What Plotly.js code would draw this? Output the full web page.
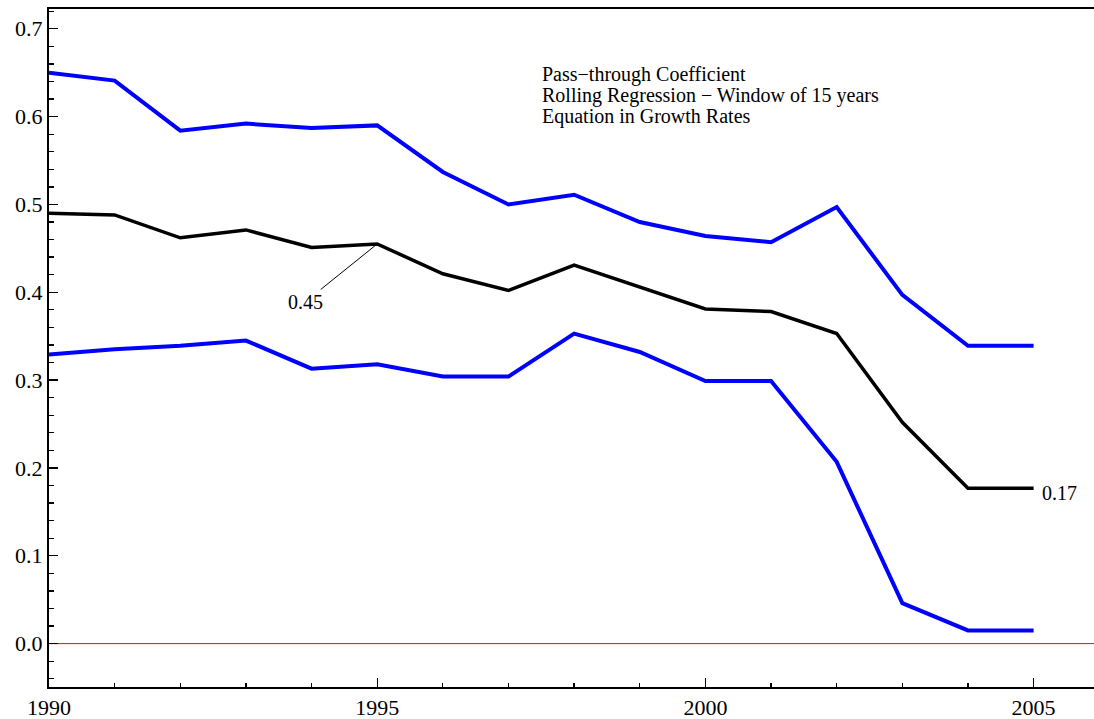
<!DOCTYPE html>
<html>
<head>
<meta charset="utf-8">
<script src="https://cdn.plot.ly/plotly-3.0.1.min.js"></script>
<style>html,body{margin:0;padding:0;background:#fff;}#chart{width:1094px;height:719px;}</style>
</head>
<body>
<div id="chart"></div>
<script>
var years = [1990,1991,1992,1993,1994,1995,1996,1997,1998,1999,2000,2001,2002,2003,2004,2005];
var upperBand = [0.650,0.641,0.584,0.592,0.587,0.590,0.537,0.500,0.511,0.480,0.464,0.457,0.497,0.397,0.339,0.339];
var coefficient = [0.490,0.488,0.462,0.471,0.451,0.455,0.421,0.402,0.431,0.406,0.381,0.378,0.353,0.252,0.177,0.177];
var lowerBand = [0.329,0.335,0.339,0.345,0.313,0.318,0.304,0.304,0.353,0.332,0.299,0.299,0.207,0.046,0.015,0.015];
var xTickVals = [1990,1995,2000,2005];
var xTickText = ['1990','1995','2000','2005'];
var yTickVals = [0.0,0.1,0.2,0.3,0.4,0.5,0.6,0.7];
var yTickText = ['0.0','0.1','0.2','0.3','0.4','0.5','0.6','0.7'];
var titleLines = ['Pass\u2212through Coefficient','Rolling Regression \u2212 Window of 15 years','Equation in Growth Rates'];
var labelMid = {year:1995, value:0.455, text:'0.45'};
var labelEnd = {year:2005, value:0.177, text:'0.17'};

var FONT = 'Liberation Serif, Times New Roman, serif';

var traces = [
  {x: years, y: upperBand, mode:'lines', line:{color:'#0000ff', width:4}, hoverinfo:'skip'},
  {x: years, y: lowerBand, mode:'lines', line:{color:'#0000ff', width:4}, hoverinfo:'skip'},
  {x: years, y: coefficient, mode:'lines', line:{color:'#000000', width:3.5}, hoverinfo:'skip'}
];

var annotations = titleLines.map(function(t,i){
  return {xref:'paper', yref:'paper', x:0.4699, y:0.923 - i*0.0305, xanchor:'left', yanchor:'top',
    text:t, showarrow:false, align:'left', font:{family:FONT, size:20, color:'#000'}};
});
annotations.push({x:labelMid.year, y:labelMid.value, text:labelMid.text, showarrow:true, arrowhead:0,
  arrowwidth:1, arrowcolor:'#000', ax:-72, ay:58, standoff:0, font:{family:FONT, size:20, color:'#000'}});
annotations.push({x:labelEnd.year, y:labelEnd.value, text:labelEnd.text, showarrow:false, xanchor:'left',
  xshift:6, yshift:-5, font:{family:FONT, size:20, color:'#000'}});

var layout = {
  width:1094, height:719,
  margin:{l:49, r:0, t:9, b:32},
  paper_bgcolor:'#fff', plot_bgcolor:'#fff',
  showlegend:false,
  font:{family:FONT, size:22, color:'#000'},
  xaxis:{range:[1990,2005.92], tickvals:xTickVals, ticktext:xTickText, ticks:'inside', ticklen:9, tickwidth:1.3,
    tickcolor:'#000', showgrid:false, zeroline:false, showline:true, linecolor:'#000', linewidth:2, mirror:true,
    minor:{dtick:1, tick0:1990, ticks:'inside', ticklen:4.5, tickwidth:1.3, tickcolor:'#000', showgrid:false},
    tickfont:{family:FONT, size:22, color:'#000'}, fixedrange:true},
  yaxis:{range:[-0.0494,0.7225], tickvals:yTickVals, ticktext:yTickText, ticks:'inside', ticklen:9, tickwidth:1.3,
    tickcolor:'#000', showgrid:false, zeroline:false, showline:true, linecolor:'#000', linewidth:2,
    minor:{dtick:0.02, tick0:0, ticks:'inside', ticklen:4.5, tickwidth:1.3, tickcolor:'#000', showgrid:false},
    tickfont:{family:FONT, size:22, color:'#000'}, fixedrange:true},
  shapes:[{type:'line', xref:'paper', yref:'y', x0:0, x1:1, y0:0, y1:0, line:{color:'#ff0000', width:1}, layer:'below'}],
  annotations: annotations
};

Plotly.newPlot('chart', traces, layout, {displayModeBar:false, staticPlot:true});
</script>
</body>
</html>
